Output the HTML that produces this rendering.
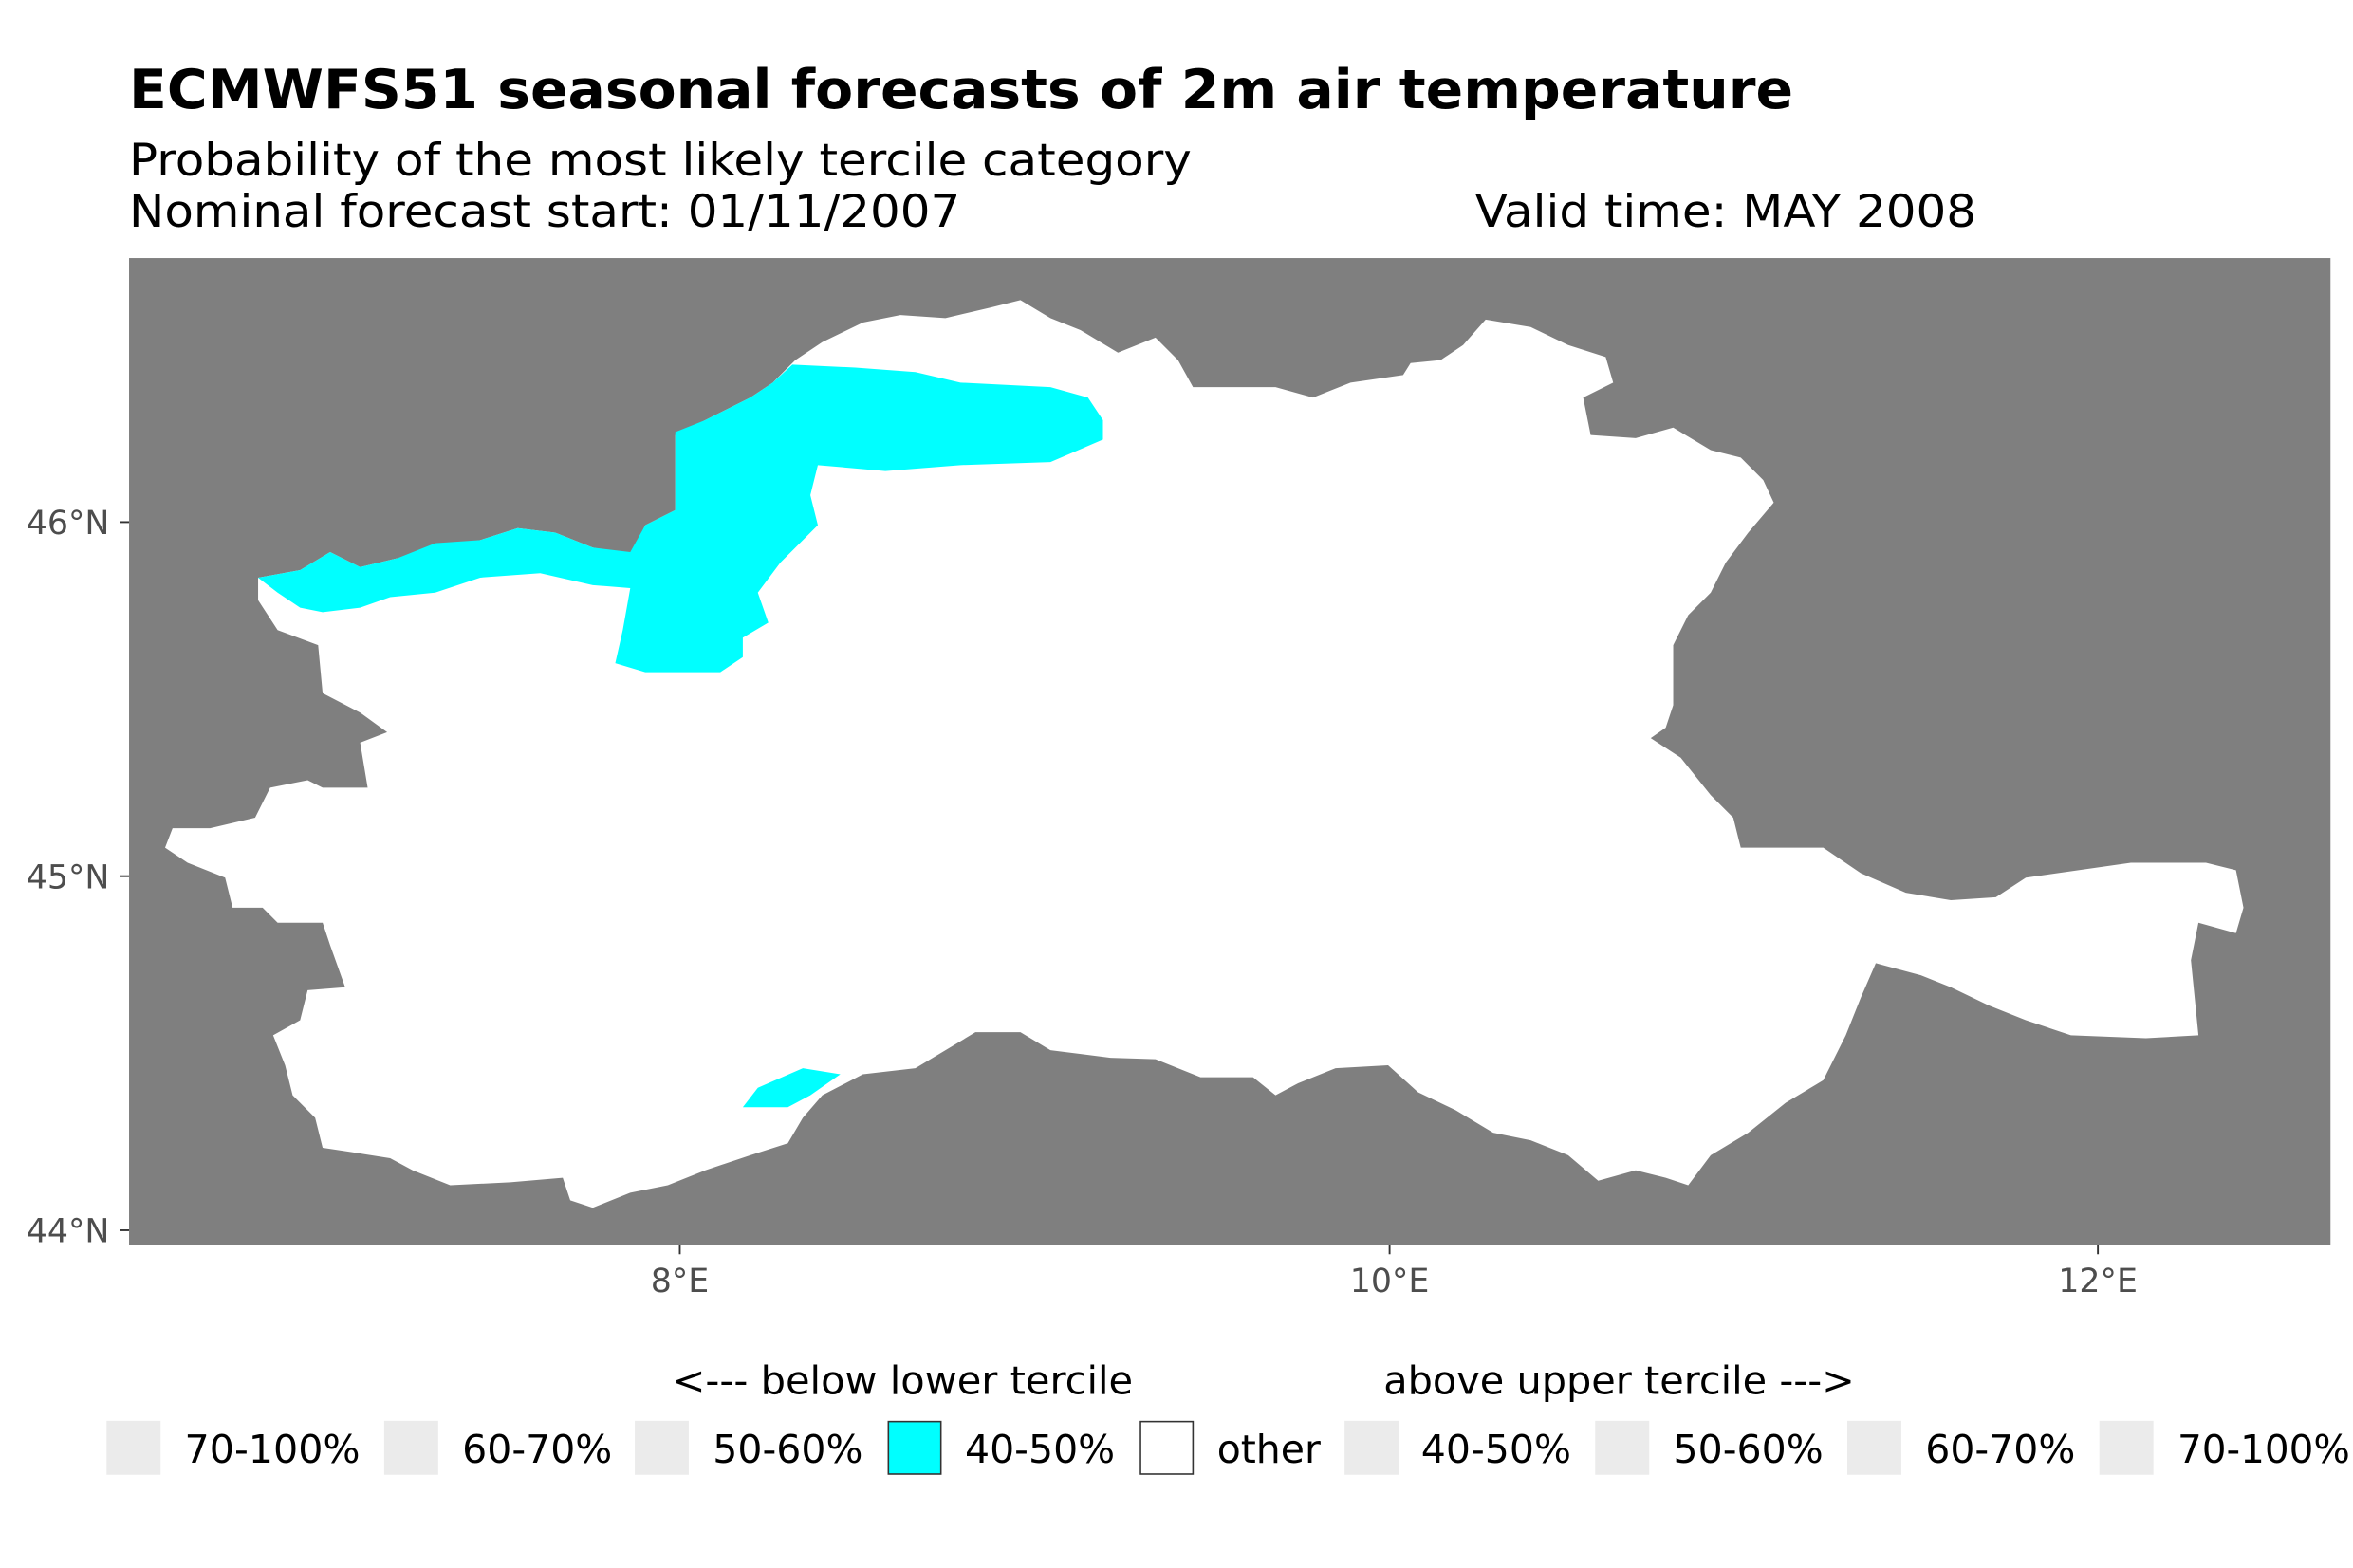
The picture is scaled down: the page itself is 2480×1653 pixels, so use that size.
<!DOCTYPE html>
<html><head><meta charset="utf-8"><style>
html,body{margin:0;padding:0;background:#fff;}
svg{display:block;font-family:"DejaVu Sans","Liberation Sans",sans-serif;}
</style></head><body>
<svg width="2480" height="1653" viewBox="0 0 1568 1045.1" preserveAspectRatio="none" xmlns="http://www.w3.org/2000/svg">
<rect width="1568" height="1046" fill="#fff"/>
<text x="86" y="72" font-size="36" font-weight="bold" fill="#000" textLength="1109" lengthAdjust="spacingAndGlyphs">ECMWFS51 seasonal forecasts of 2m air temperature</text>
<text x="86" y="117" font-size="30" fill="#000" textLength="708" lengthAdjust="spacingAndGlyphs">Probability of the most likely tercile category</text>
<text x="86" y="151" font-size="30" fill="#000" textLength="554" lengthAdjust="spacingAndGlyphs">Nominal forecast start: 01/11/2007</text>
<text x="983" y="151" font-size="30" fill="#000" textLength="334" lengthAdjust="spacingAndGlyphs">Valid time: MAY 2008</text>
<rect x="86" y="172" width="1467" height="658" fill="#7f7f7f"/>
<polygon fill="#fff" points="172,385 200,380 220,368 240,378 265,372 290,365 320,360 345,352 370,355 395,365 420,370 430,350 450,340 450,290 470,280 500,265 515,255 530,240 548,228 575,215 600,210 630,212 660,205 680,200 700,212 720,220 745,235 770,225 785,240 795,258 830,258 850,258 875,265 900,255 935,250 940,242 960,240 975,230 990,213 1020,218 1045,230 1070,238 1075,255 1055,265 1060,290 1090,292 1115,285 1140,300 1160,305 1175,320 1182,335 1165,355 1150,375 1140,395 1125,410 1115,430 1115,470 1110,485 1100,492 1120,505 1140,530 1155,545 1160,565 1215,565 1240,582 1270,595 1300,600 1330,598 1350,585 1420,575 1470,575 1490,580 1495,605 1490,622 1465,615 1460,640 1465,690 1430,692 1380,690 1350,680 1325,670 1300,658 1280,650 1250,642 1240,665 1230,690 1215,720 1190,735 1165,755 1140,770 1125,790 1110,785 1090,780 1065,787 1045,770 1020,760 995,755 970,740 945,728 925,710 890,712 865,722 850,730 835,718 800,718 770,706 740,705 700,700 680,688 650,688 610,712 575,716 548,730 535,745 525,762 500,770 470,780 445,790 420,795 395,805 380,800 375,785 340,788 300,790 275,780 260,772 235,768 215,765 210,745 195,730 190,710 182,690 200,680 205,660 230,658 220,630 215,615 185,615 175,605 155,605 150,585 125,575 110,565 115,552 140,552 170,545 180,525 205,520 215,525 245,525 240,495 258,488 240,475 215,462 212,430 185,420 172,400"/>
<polygon fill="#00ffff" points="172,385 200,380 220,368 240,378 265,372 290,362 320,360 345,352 370,355 395,365 420,368 430,350 450,340 450,288 470,280 500,265 515,255 528,243 570,245 610,248 640,255 700,258 725,265 735,280 735,293 700,308 640,310 590,314 545,310 540,330 545,350 520,375 505,395 512,415 495,425 495,438 480,448 430,448 410,442 415,420 420,392 395,390 360,382 320,385 290,395 260,398 240,405 215,408 200,405 185,395"/>
<polygon fill="#00ffff" points="495,738 505,725 535,712 560,716 540,730 525,738"/>
<g stroke="#333" stroke-width="1.2">
<line x1="80" y1="348" x2="86" y2="348"/><line x1="80" y1="584" x2="86" y2="584"/><line x1="80" y1="820" x2="86" y2="820"/>
<line x1="453" y1="830" x2="453" y2="836"/><line x1="926" y1="830" x2="926" y2="836"/><line x1="1398" y1="830" x2="1398" y2="836"/>
</g>
<g font-size="22" fill="#4d4d4d">
<text x="73" y="356" text-anchor="end">46°N</text>
<text x="73" y="592" text-anchor="end">45°N</text>
<text x="73" y="828" text-anchor="end">44°N</text>
<text x="453" y="861" text-anchor="middle">8°E</text>
<text x="926" y="861" text-anchor="middle">10°E</text>
<text x="1398" y="861" text-anchor="middle">12°E</text>
</g>
<g font-size="26" fill="#000">
<text x="448" y="929" textLength="307" lengthAdjust="spacingAndGlyphs">&lt;--- below lower tercile</text>
<text x="922" y="929" textLength="314" lengthAdjust="spacingAndGlyphs">above upper tercile ---&gt;</text>
</g>
<g>
<rect x="71" y="947" width="36" height="36" fill="#ebebeb"/>
<rect x="256" y="947" width="36" height="36" fill="#ebebeb"/>
<rect x="423" y="947" width="36" height="36" fill="#ebebeb"/>
<rect x="592" y="947.5" width="35" height="35" fill="#00ffff" stroke="#333" stroke-width="1"/>
<rect x="760" y="947.5" width="35" height="35" fill="#fff" stroke="#333" stroke-width="1"/>
<rect x="896" y="947" width="36" height="36" fill="#ebebeb"/>
<rect x="1063" y="947" width="36" height="36" fill="#ebebeb"/>
<rect x="1231" y="947" width="36" height="36" fill="#ebebeb"/>
<rect x="1399" y="947" width="36" height="36" fill="#ebebeb"/>
</g>
<g font-size="26" fill="#000">
<text x="123" y="975" textLength="117" lengthAdjust="spacingAndGlyphs">70-100%</text>
<text x="308" y="975" textLength="100" lengthAdjust="spacingAndGlyphs">60-70%</text>
<text x="475" y="975" textLength="100" lengthAdjust="spacingAndGlyphs">50-60%</text>
<text x="643" y="975" textLength="100" lengthAdjust="spacingAndGlyphs">40-50%</text>
<text x="811" y="975" textLength="69" lengthAdjust="spacingAndGlyphs">other</text>
<text x="947" y="975" textLength="100" lengthAdjust="spacingAndGlyphs">40-50%</text>
<text x="1115" y="975" textLength="100" lengthAdjust="spacingAndGlyphs">50-60%</text>
<text x="1283" y="975" textLength="100" lengthAdjust="spacingAndGlyphs">60-70%</text>
<text x="1451" y="975" textLength="115" lengthAdjust="spacingAndGlyphs">70-100%</text>
</g>
</svg>
</body></html>
